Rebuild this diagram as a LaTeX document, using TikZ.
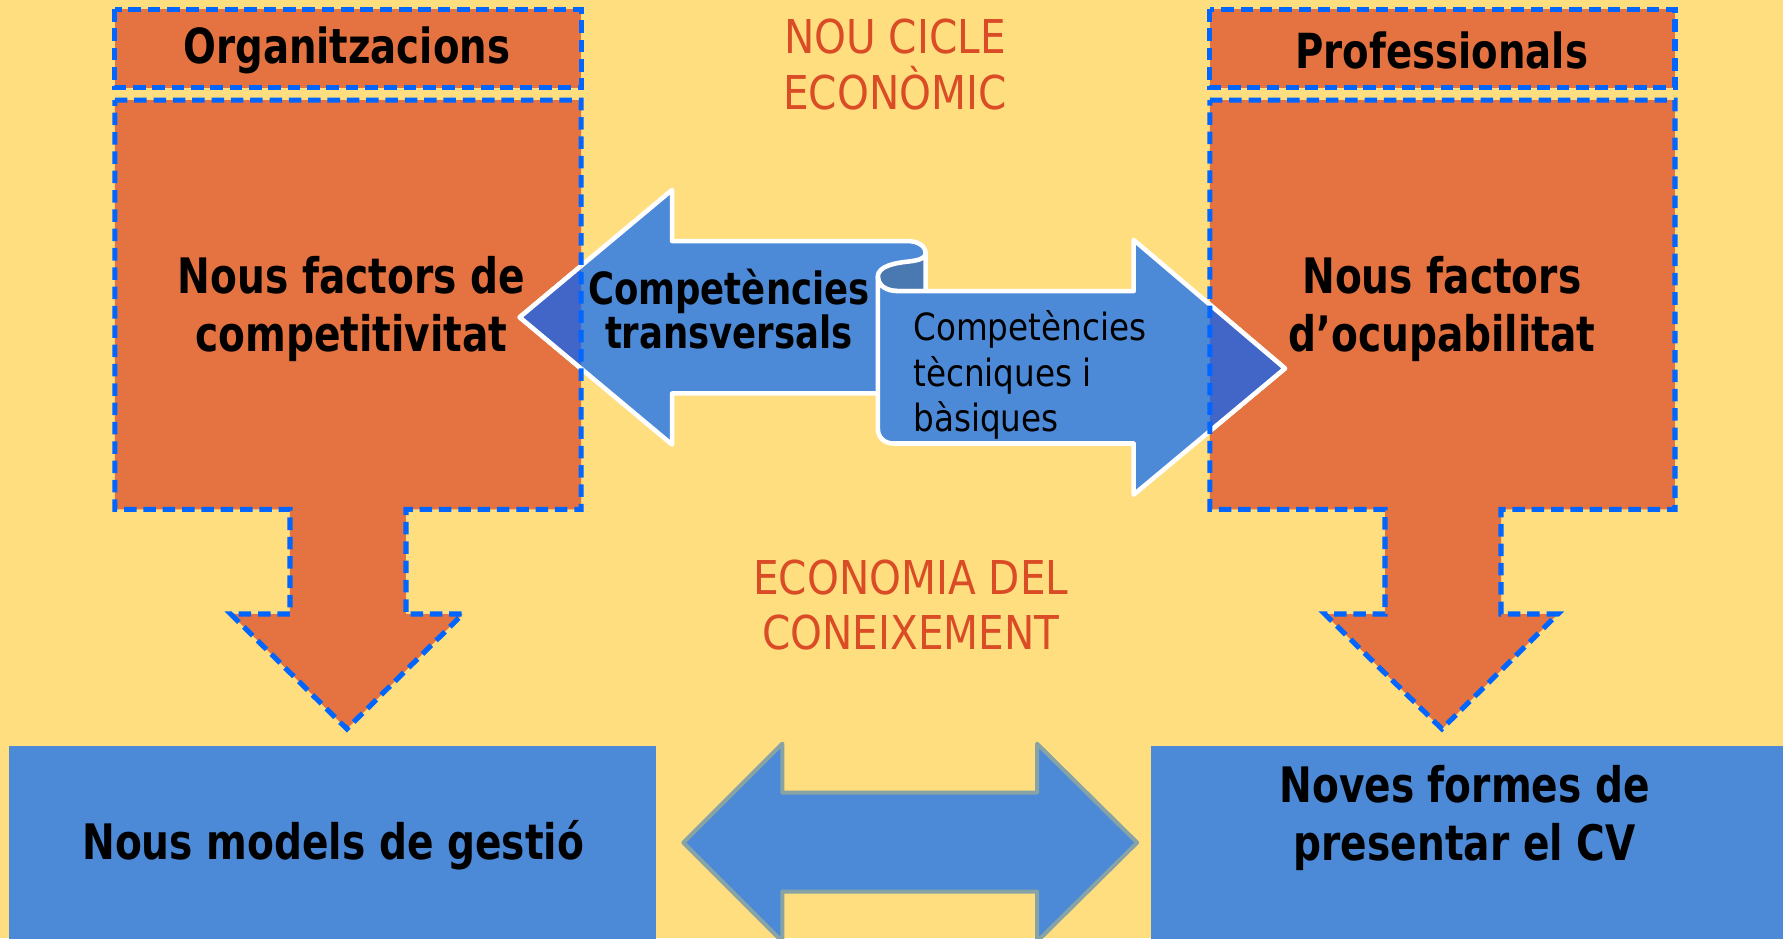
\documentclass[tikz,border=0pt]{standalone}
\usepackage{fontspec}
\newfontfamily\boldf{DejaVu Sans}[FakeStretch=0.8]
\newfontfamily\regf{DejaVu Sans}[FakeStretch=0.87]
\definecolor{bgY}{HTML}{FFDE80}
\definecolor{orng}{HTML}{E57341}
\definecolor{blu}{HTML}{4C89D6}
\definecolor{dashb}{HTML}{0066FF}
\definecolor{redt}{HTML}{DA4C26}
\definecolor{rollc}{HTML}{4A78B0}
\definecolor{overc}{HTML}{4266C8}
\definecolor{grayb}{HTML}{87A3A5}
\begin{document}
\begin{tikzpicture}[x=1pt,y=-1pt,
  dashbord/.style={draw=dashb,line width=4.5pt,dash pattern=on 11pt off 6pt},
  wline/.style={draw=white,line width=4pt,line join=round},
  btxt/.style={font=\boldf\bfseries\fontsize{43}{51}\selectfont,align=center,text=black,inner sep=0pt},
  htxt/.style={font=\boldf\bfseries\fontsize{42.5}{48}\selectfont,align=center,text=black,inner sep=0pt},
  ctxt/.style={font=\boldf\bfseries\fontsize{39}{39}\selectfont,align=center,text=black,inner sep=0pt},
  ttxt/.style={font=\regf\fontsize{33}{40}\selectfont,align=left,text=black,inner sep=0pt},
  rtxt/.style={font=\regf\fontsize{41}{49}\selectfont,align=center,text=redt,inner sep=0pt}]
\def\leftbox{(101,88) -- (511,88) -- (511,448) -- (357,448) -- (357,540) -- (407,540) -- (305,641) -- (203,540) -- (255,540) -- (255,448) -- (101,448) -- cycle}
\def\rightbox{(1064,88) -- (1473,88) -- (1473,448) -- (1320,448) -- (1320,540) -- (1370,540) -- (1268,641) -- (1165,540) -- (1218,540) -- (1218,448) -- (1064,448) -- cycle}
\def\leftarr{(457,279) -- (591,167) -- (591,212) -- (798,212) .. controls (807,212) and (814,216) .. (814,223) -- (814,346) -- (591,346) -- (591,391) -- cycle}
\def\rollp{(772,243) .. controls (772,234) and (788,231) .. (799,230) .. controls (808,229) and (814,227) .. (814,223) -- (814,256) -- (790,256) .. controls (779,256) and (772,251) .. (772,243) -- cycle}
\def\rightarr{(772,243) .. controls (772,251) and (779,256) .. (790,256) -- (997,256) -- (997,211) -- (1130,324) -- (997,435) -- (997,390) -- (786,390) .. controls (778,390) and (772,385) .. (772,377) -- cycle}
\useasboundingbox (0,0) rectangle (1568,825);
\fill[bgY] (0,0) rectangle (1568,825);
\clip (0,0) rectangle (1568,825);
% orange shapes
\fill[orng] (101,8) rectangle (511,77);
\fill[orng] (1064,8) rectangle (1473,77);
\fill[orng] \leftbox;
\fill[orng] \rightbox;
% bottom blue boxes
\fill[blu] (8,656) rectangle (577,840);
\fill[blu] (1012,656) rectangle (1575,840);
% bottom double arrow
\filldraw[fill=blu,draw=grayb,line width=3.5pt,line join=round] (601,741) -- (688,654) -- (688,697) -- (912,697) -- (912,654) -- (1000,741) -- (912,828) -- (912,784) -- (688,784) -- (688,828) -- cycle;
% scroll arrows
\fill[blu] \leftarr;
\path[wline] \leftarr;
\fill[rollc] \rollp;
\path[wline] \rollp;
\fill[blu] \rightarr;
\path[wline] \rightarr;
\begin{scope}
\clip \leftbox;
\fill[overc] \leftarr;
\path[wline] \leftarr;
\end{scope}
\begin{scope}
\clip \rightbox;
\fill[overc] \rightarr;
\path[wline] \rightarr;
\end{scope}
% dashed borders
\path[dashbord] (101,8) rectangle (511,77);
\path[dashbord] (1064,8) rectangle (1473,77);
\path[dashbord] \leftbox;
\path[dashbord] \rightbox;
% texts
\node[htxt] (org) at (305,44) {Organitzacions};
\node[htxt] (prof) at (1268,44) {Professionals};
\node[btxt] (nfc) at (309,272) {Nous factors de\\competitivitat};
\node[btxt] (nfo) at (1268,272) {Nous factors\\d’ocupabilitat};
\node[ctxt] (ctr) at (641,272) {Competències\\transversals};
\node[ttxt,anchor=west] (ctb) at (803,330) {Competències\\tècniques i\\bàsiques};
\node[rtxt] (nce) at (787,57) {NOU CICLE\\ECONÒMIC};
\node[rtxt] (edc) at (801,532) {ECONOMIA DEL\\CONEIXEMENT};
\node[btxt] (nmg) at (293,743) {Nous models de gestió};
\node[btxt] (nfp) at (1288,719) {Noves formes de\\presentar el CV};
\end{tikzpicture}
\end{document}
